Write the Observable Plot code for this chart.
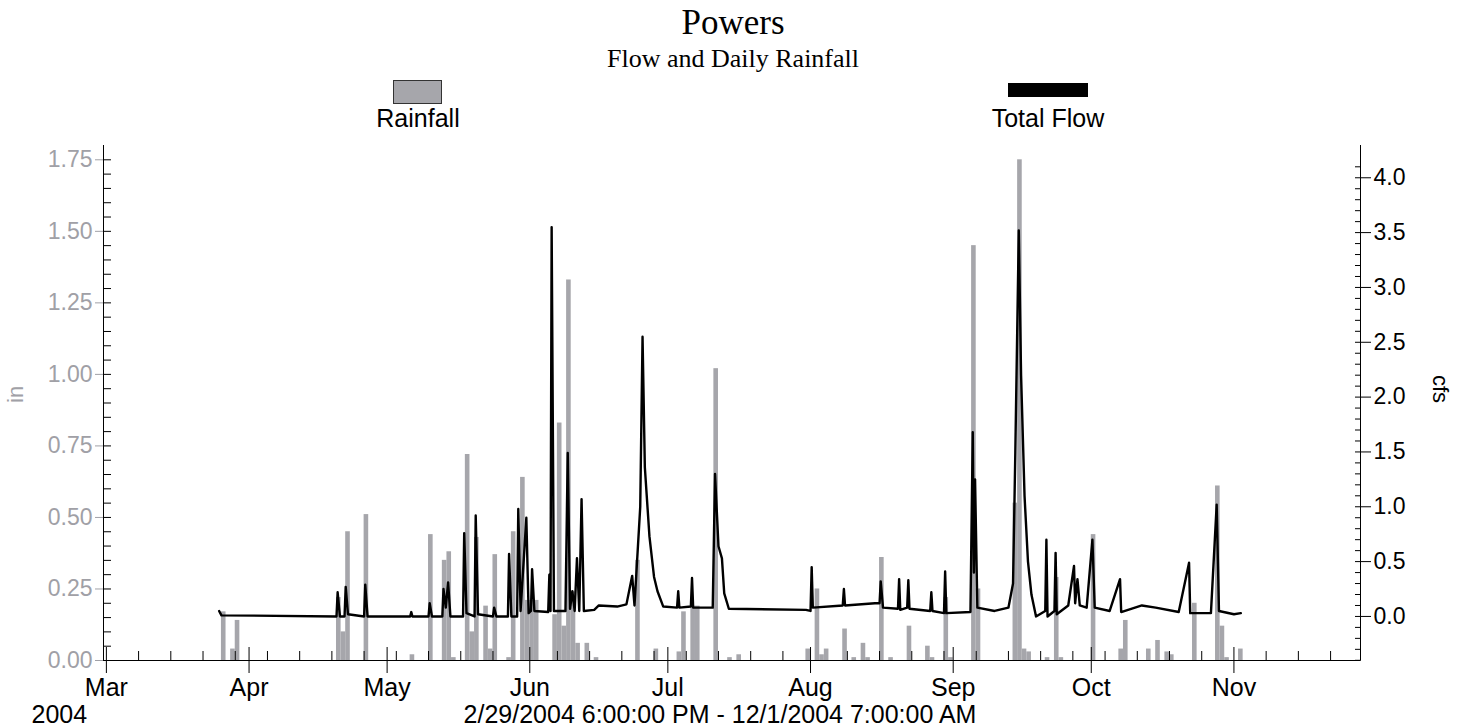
<!DOCTYPE html>
<html>
<head>
<meta charset="utf-8">
<script src="https://cdn.jsdelivr.net/npm/d3@7"></script>
<script src="https://cdn.jsdelivr.net/npm/@observablehq/plot@0.6"></script>
<style>
  body { margin: 0; background: #fff; font-family: "Liberation Sans", Arial, sans-serif; }
  #head { position: relative; width: 1466px; height: 140px; }
  .t { position: absolute; left: 0; width: 1466px; text-align: center; font-family: "Liberation Serif", serif; }
  .lg { position: absolute; font-size: 25px; text-align: center; width: 200px; }
</style>
</head>
<body>
<div id="head">
  <div class="t" style="top:3px;font-size:35px;">Powers</div>
  <div class="t" style="top:44px;font-size:26px;">Flow and Daily Rainfall</div>
  <div style="position:absolute;left:393px;top:80px;width:47px;height:22px;background:#a6a6ab;border:1px solid #333;"></div>
  <div class="lg" style="left:318px;top:104px;">Rainfall</div>
  <div style="position:absolute;left:1008px;top:83px;width:80px;height:14px;background:#000;"></div>
  <div class="lg" style="left:948px;top:104px;">Total Flow</div>
</div>
<div id="chart"></div>
<script>
  /* ---- Daily rainfall (in) ---- */
  const rainDates = [
    '03-26','03-28','03-29','04-20','04-21','04-22','04-26','05-06','05-10','05-13','05-14','05-15',
    '05-18','05-19','05-20','05-22','05-23','05-24','05-27','05-28','05-30','05-31','06-01','06-02',
    '06-06','06-07','06-08','06-09','06-10','06-11','06-13','06-15','06-24','06-28','07-03','07-04',
    '07-06','07-07','07-11','07-14','07-16','07-31','08-02','08-03','08-04','08-08','08-10','08-12',
    '08-13','08-16','08-18','08-22','08-26','08-27','08-30','08-31','09-05','09-06','09-14','09-15',
    '09-16','09-17','09-21','09-23','09-24','10-01','10-07','10-08','10-13','10-15','10-17','10-18',
    '10-23','10-28','10-29','10-30','11-02'
  ];
  const rainIn = [
    0.17,0.04,0.14,0.22,0.10,0.45,0.51,0.02,0.44,0.35,0.38,0.01,
    0.72,0.10,0.43,0.19,0.04,0.37,0.01,0.45,0.64,0.21,0.21,0.21,
    0.16,0.83,0.12,1.33,0.24,0.06,0.06,0.01,0.35,0.04,0.03,0.17,
    0.19,0.19,1.02,0.01,0.02,0.04,0.25,0.02,0.04,0.11,0.01,0.06,
    0.01,0.36,0.01,0.12,0.05,0.01,0.22,0.01,1.45,0.25,0.55,1.75,
    0.04,0.03,0.01,0.29,0.01,0.44,0.04,0.14,0.04,0.07,0.03,0.02,
    0.20,0.61,0.12,0.01,0.04
  ];

  /* ---- Total flow (cfs) ---- */
  const flowTimes = [
    '03-25T12','03-26T00','04-20T00','04-20T06','04-20T18','04-21T18','04-22T00','04-22T12',
    '04-26T00','04-26T06','04-26T18','05-06T00','05-06T06','05-06T12','05-10T00','05-10T06','05-10T18',
    '05-13T00','05-13T06','05-13T18','05-14T06','05-14T18','05-17T12','05-17T18','05-18T06',
    '05-20T00','05-20T06','05-20T18','05-24T00','05-24T06','05-24T18','05-27T06','05-27T12','05-28T00',
    '05-29T06','05-29T12','05-30T00','05-31T06','05-31T18','06-01T06','06-01T12','06-02T00',
    '06-05T00','06-05T06','06-05T12','06-05T18','06-06T06','06-08T18','06-09T06','06-09T18',
    '06-10T06','06-10T18','06-11T06','06-11T18','06-12T06','06-12T18','06-15T00','06-16T00',
    '06-20T00','06-22T00','06-23T06','06-23T18','06-25T00','06-25T12','06-26T00','06-27T00',
    '06-28T00','06-28T18','06-30T00','07-03T00','07-03T06','07-03T12','07-06T00','07-06T06','07-06T12',
    '07-10T18','07-11T06','07-12T00','07-12T18','07-13T06','07-14T06','07-31T00','08-01T00','08-01T06',
    '08-01T12','08-08T00','08-08T06','08-08T12','08-15T00','08-16T00','08-16T06','08-16T18',
    '08-20T00','08-20T06','08-20T12','08-22T00','08-22T06','08-22T12','08-27T00','08-27T06','08-27T12',
    '08-30T00','08-30T06','08-30T12','09-04T18','09-05T06','09-05T12','09-05T18','09-06T06',
    '09-10T00','09-13T00','09-14T00','09-14T12','09-15T06','09-15T18','09-16T12','09-17T06',
    '09-18T00','09-19T00','09-21T00','09-21T06','09-21T12','09-23T00','09-23T06','09-23T12',
    '09-26T00','09-27T06','09-27T12','09-28T00','09-28T12','09-30T00','10-01T06','10-01T18',
    '10-05T00','10-07T06','10-07T12','10-12T00','10-15T00','10-20T00','10-22T06','10-22T12',
    '10-27T00','10-28T06','10-28T18','11-01T00','11-02T12'
  ];
  const flowCfs = [
    0.05,0.01,0.0,0.22,0.0,0.0,0.27,0.02,
    0.0,0.29,0.0,0.0,0.04,0.0,0.0,0.12,0.0,
    0.0,0.25,0.08,0.31,0.0,0.0,0.76,0.03,
    0.0,0.92,0.02,0.0,0.08,0.0,0.0,0.57,0.0,
    0.0,0.98,0.05,0.90,0.03,0.05,0.43,0.05,
    0.04,0.38,0.05,3.55,0.05,0.05,1.49,0.07,
    0.23,0.05,0.53,0.05,1.07,0.05,0.06,0.10,
    0.09,0.11,0.37,0.10,1.00,2.55,1.36,0.73,
    0.36,0.23,0.09,0.08,0.23,0.08,0.09,0.35,0.08,
    0.08,1.30,0.64,0.53,0.21,0.07,0.06,0.05,0.45,
    0.08,0.10,0.25,0.10,0.12,0.12,0.32,0.08,
    0.07,0.34,0.06,0.08,0.33,0.07,0.05,0.22,0.05,
    0.03,0.41,0.03,0.04,1.68,0.40,1.25,0.08,
    0.05,0.08,0.30,1.50,3.52,2.20,1.10,0.50,
    0.20,0.00,0.05,0.70,0.00,0.05,0.58,0.02,
    0.10,0.46,0.12,0.34,0.10,0.08,0.70,0.08,
    0.05,0.34,0.04,0.10,0.08,0.04,0.49,0.03,
    0.03,1.02,0.05,0.02,0.03
  ];

  const inTicks = [0, 0.25, 0.5, 0.75, 1.0, 1.25, 1.5, 1.75];
  const cfsTicks = [0, 0.5, 1.0, 1.5, 2.0, 2.5, 3.0, 3.5, 4.0];
  const xStart = new Date('2004-02-29T09:00Z');
  const xEnd = new Date('2004-11-28T12:00Z');

  const d = s => new Date('2004-' + s + (s.length > 5 ? ':00Z' : 'T00:00Z'));
  // right (cfs) axis mapped onto the left (in) scale
  const toIn = c => 0.154 + 0.3833 * c;

  const rain = rainDates.map((s, i) => ({ date: d(s), v: rainIn[i] }));
  const flow = flowTimes.map((s, i) => ({ date: d(s), v: toIn(flowCfs[i]) }));
  const months = d3.utcMonth.range(new Date('2004-03-01Z'), new Date('2004-11-02Z'));
  const weeks = d3.range(0, 40).map(i => new Date(+new Date('2004-03-01Z') + i * 7 * 864e5))
    .filter(t => t < xEnd && !months.some(m => Math.abs(m - t) < 2 * 864e5));
  const minorIn = d3.range(0, 1.8, 0.05);
  const minorCfs = d3.range(-0.4, 4.2, 0.1);

  const chart = Plot.plot({
    width: 1466,
    height: 587,
    marginTop: 5,
    marginBottom: 67,
    marginLeft: 103,
    marginRight: 106,
    style: { fontFamily: "'Liberation Sans', Arial, sans-serif", fontSize: '22px', color: '#000' },
    x: { type: 'utc', domain: [xStart, xEnd] },
    y: { domain: [0, 1.8] },
    marks: [
      Plot.rectY(rain, { x: 'date', y: 'v', interval: 'day', fill: '#a6a6ab', insetLeft: 0, insetRight: 0 }),
      Plot.line(flow, { x: 'date', y: 'v', stroke: '#000', strokeWidth: 2.4 }),
      // left axis
      Plot.axisY(inTicks, { anchor: 'left', tickFormat: v => v.toFixed(2), tickSize: 8, color: '#a0a0a6', stroke: '#a0a0a6', fontSize: 23, label: null }),
      Plot.axisY(minorIn, { anchor: 'left', tickSize: -8, text: null, stroke: '#000', label: null }),
      Plot.text(['in'], { frameAnchor: 'left', dx: -88, rotate: -90, fill: '#a0a0a6', fontSize: 22 }),
      // right axis
      Plot.axisY(cfsTicks.map(toIn), { anchor: 'right', tickFormat: v => ((v - 0.154) / 0.3833).toFixed(1), tickSize: 10, fontSize: 23, label: null }),
      Plot.axisY(minorCfs.map(toIn), { anchor: 'right', tickSize: -6, text: null, label: null }),
      Plot.text(['cfs'], { frameAnchor: 'right', dx: 80, rotate: 90, fontSize: 22 }),
      // bottom axis
      Plot.axisX(months, { tickSize: 13, tickFormat: d3.utcFormat('%b'), fontSize: 25, tickPadding: 5, label: null }),
      Plot.axisX(months, { tickSize: -13, text: null, label: null }),
      Plot.axisX(weeks, { tickSize: -9, text: null, label: null }),
      Plot.ruleY([0]),
      Plot.ruleX([xStart, xEnd]),
      Plot.text(['2004'], { frameAnchor: 'bottom-left', dx: -72, dy: 62, textAnchor: 'start', fontSize: 25 }),
      Plot.text(['2/29/2004 6:00:00 PM - 12/1/2004 7:00:00 AM'], { frameAnchor: 'bottom', dx: -12, dy: 62, fontSize: 25 })
    ]
  });

  document.getElementById('chart').appendChild(chart);
</script>
</body>
</html>
